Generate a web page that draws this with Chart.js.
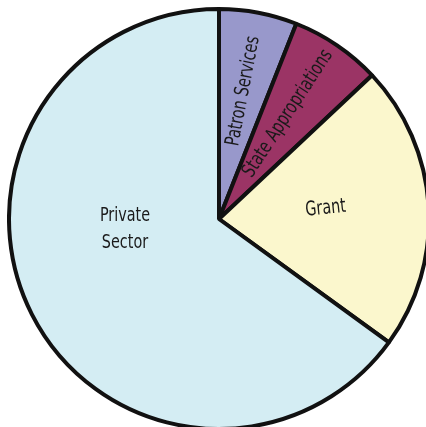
<!DOCTYPE html>
<html>
<head>
<meta charset="utf-8">
<script src="https://cdn.jsdelivr.net/npm/chart.js@4.4.0/dist/chart.umd.min.js"></script>
<style>
    html, body { margin: 0; padding: 0; background: #fff; overflow: hidden; width: 426px; height: 427px; }
    #wrap { position: absolute; left: 7px; top: 7px; width: 424px; height: 424px; }
</style>
</head>
<body>
<div id="wrap"><canvas id="pieChart"></canvas></div>
<script>
// dados do gráfico (sentido horário a partir do topo)
const categories = ['Patron Services', 'State Appropriations', 'Grant', 'Private Sector'];
const shares = [6, 7, 22, 65];
const sliceColors = ['#9898cb', '#9b3465', '#fbf7cd', '#d4edf3'];
const labelLines = [['Patron Services'], ['State Appropriations'], ['Grant'], ['Private', 'Sector']];

// onde colocar cada rótulo: fração do raio, deslocamento do ângulo (graus), rotação
const labelLayout = [
    { r: 0.62, shift: 0, rot: 'radial' },
    { r: 0.60, shift: -1, rot: 'radial' },
    { r: 0.51, shift: -2, rot: -6 },
    { r: 0.45, shift: 21, rot: 0 }
];

const sliceLabels = {
    id: 'sliceLabels',
    afterDatasetsDraw(chart) {
        const ctx = chart.ctx;
        const arcs = chart.getDatasetMeta(0).data;
        ctx.save();
        ctx.fillStyle = '#1a1a1a';
        ctx.font = '20px "DejaVu Sans", sans-serif';
        ctx.textAlign = 'center';
        ctx.textBaseline = 'middle';
        arcs.forEach((arc, i) => {
            const lay = labelLayout[i];
            const a = (arc.startAngle + arc.endAngle) / 2 + lay.shift * Math.PI / 180;
            const d = arc.outerRadius * lay.r;
            const x = arc.x + Math.cos(a) * d;
            const y = arc.y + Math.sin(a) * d;
            ctx.save();
            ctx.translate(x, y);
            ctx.rotate(lay.rot === 'radial' ? a : lay.rot * Math.PI / 180);
            ctx.scale(0.72, 1); // imitar fonte condensada
            const lines = labelLines[i];
            lines.forEach((t, k) => {
                ctx.fillText(t, 0, (k - (lines.length - 1) / 2) * 27);
            });
            ctx.restore();
        });
        ctx.restore();
    }
};

new Chart(document.getElementById('pieChart'), {
    type: 'pie',
    data: {
        labels: categories,
        datasets: [{
            data: shares,
            backgroundColor: sliceColors,
            borderColor: '#111',
            borderWidth: 4
        }]
    },
    options: {
        responsive: true,
        maintainAspectRatio: false,
        animation: false,
        layout: { padding: 0 },
        plugins: {
            legend: { display: false },
            tooltip: { enabled: false }
        }
    },
    plugins: [sliceLabels]
});
</script>
</body>
</html>
